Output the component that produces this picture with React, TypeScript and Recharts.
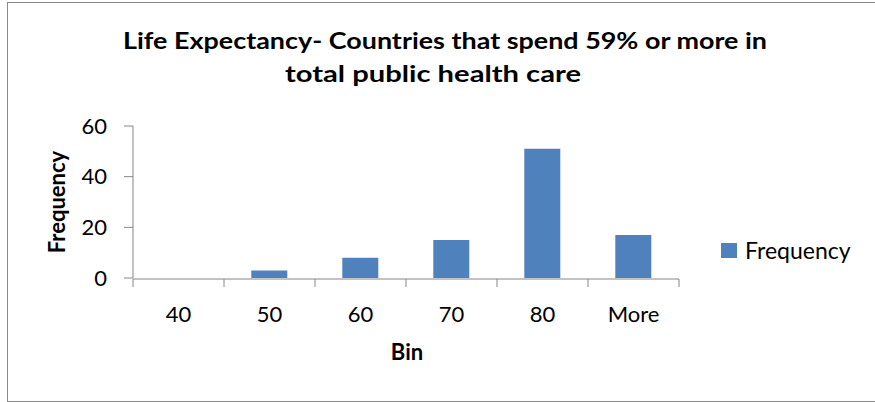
import React from 'react';
import { BarChart, Bar, XAxis, YAxis } from 'recharts';

const bins = ['40', '50', '60', '70', '80', 'More'];
const frequency = [0, 3, 8, 15, 51, 17];
const yTicks = [0, 20, 40, 60];
const titleLine1 = 'Life Expectancy- Countries that spend 59% or more in';
const titleLine2 = 'total public health care';
const seriesName = 'Frequency';
const xAxisTitle = 'Bin';
const yAxisTitle = 'Frequency';

const data = bins.map((b, i) => ({ bin: b, idx: i + 0.5, [seriesName]: frequency[i] }));
const edgeTicks = [...bins.map((_, i) => i), bins.length];

const FONT = 'Lato, "Open Sans", sans-serif';
const BLUE = '#4F81BD';
const AXIS = '#868686';

export default function App() {
  return (
    <div style={{ position: 'absolute', left: 0, top: 0, width: 875, height: 402, background: '#fff', overflow: 'hidden' }}>
      <div style={{ position: 'absolute', left: 7, top: 2, width: 900, height: 398, border: '1px solid #8a8a8a' }} />
      <div style={{ position: 'absolute', left: 0, top: 0 }}>
        <BarChart
          width={875}
          height={402}
          data={data}
          margin={{ top: 126, right: 196, bottom: 122, left: 73 }}
          barCategoryGap="30%"
        >
          <XAxis
            xAxisId="edges"
            type="number"
            dataKey="idx"
            domain={[0, bins.length]}
            ticks={edgeTicks}
            allowDataOverflow
            height={1}
            tickSize={8}
            tickLine={{ stroke: AXIS }}
            axisLine={{ stroke: AXIS }}
            tickFormatter={() => ''}
            tick={{ fontSize: 1 }}
          />
          <XAxis
            dataKey="bin"
            height={1}
            tickLine={false}
            axisLine={false}
            tickSize={8}
            tickMargin={20}
            interval={0}
            tick={{ fill: '#000', fontFamily: FONT, fontSize: 22 }}
          />
          <YAxis
            width={60}
            domain={[0, 60]}
            ticks={yTicks}
            tickSize={9}
            tickMargin={17}
            axisLine={{ stroke: AXIS }}
            tickLine={{ stroke: AXIS }}
            tick={{ fill: '#000', fontFamily: FONT, fontSize: 22 }}
          />
          <Bar dataKey={seriesName} fill={BLUE} isAnimationActive={false} />
        </BarChart>
      </div>
      <div
        style={{
          position: 'absolute',
          left: 721,
          top: 236,
          display: 'flex',
          alignItems: 'center',
          fontFamily: FONT,
          fontSize: 23,
          color: '#000',
          whiteSpace: 'nowrap',
        }}
      >
        <span style={{ display: 'inline-block', width: 16, height: 15, background: BLUE, marginRight: 8 }} />
        <span>{seriesName}</span>
      </div>
      <svg width={875} height={402} style={{ position: 'absolute', left: 0, top: 0, pointerEvents: 'none' }}>
        <text x={445} y={49} textAnchor="middle" fontFamily={FONT} fontWeight="bold" fontSize={22} textLength={644} lengthAdjust="spacingAndGlyphs" fill="#000">
          {titleLine1}
        </text>
        <text x={433} y={82} textAnchor="middle" fontFamily={FONT} fontWeight="bold" fontSize={22} textLength={296} lengthAdjust="spacingAndGlyphs" fill="#000">
          {titleLine2}
        </text>
        <text x={407} y={360} textAnchor="middle" fontFamily={FONT} fontWeight="bold" fontSize={22} fill="#000">
          {xAxisTitle}
        </text>
        <text
          x={0}
          y={0}
          transform="translate(65,202) rotate(-90)"
          textAnchor="middle"
          fontFamily={FONT}
          fontWeight="bold"
          fontSize={22}
          fill="#000"
        >
          {yAxisTitle}
        </text>
      </svg>
    </div>
  );
}
